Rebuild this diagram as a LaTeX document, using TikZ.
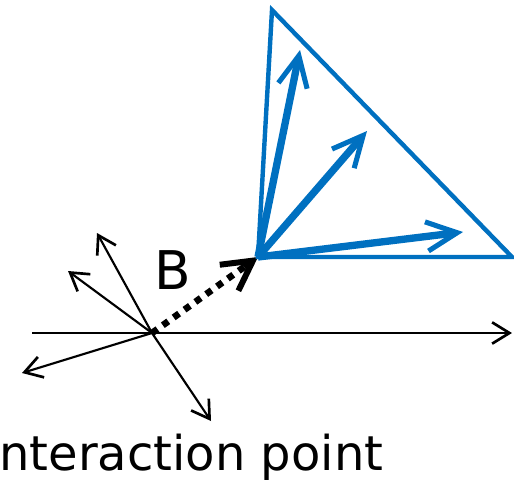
\documentclass[tikz,border=0pt]{standalone}
\usepackage{fontspec}
\setmainfont{DejaVu Sans}
\usetikzlibrary{arrows.meta}
\definecolor{tblue}{RGB}{0,112,192}

\begin{document}
\begin{tikzpicture}[x=0.75pt,y=-0.75pt,
  thinarr/.style={line width=1.6pt,-{Straight Barb[length=13pt,width=16pt,line width=2pt]}},
  bluearr/.style={tblue,line width=5.5pt,-{Straight Barb[length=23pt,width=22pt,line width=3.8pt]}}]
  \useasboundingbox (0,0) rectangle (514,482);

  % interaction point
  \coordinate (ip) at (152,333);
  \coordinate (ax0) at (32,333);
  \coordinate (ax1) at (512,333);
  \coordinate (p1) at (97,233);
  \coordinate (p2) at (68,271);
  \coordinate (p3) at (22,373);
  \coordinate (p4) at (211,421);
  \node[anchor=base west,font=\fontsize{36}{36}\selectfont,inner sep=0pt] (iplabel) at (-15,470) {Interaction point};

  % tracks
  \draw[thinarr] (ax0) -- (ax1);
  \draw[thinarr] (ip) -- (p1);
  \draw[thinarr] (ip) -- (p2);
  \draw[thinarr] (ip) -- (p3);
  \draw[thinarr] (ip) -- (p4);

  % B meson flight
  \coordinate (dv) at (258,257);
  \draw[line width=5pt,dash pattern=on 5pt off 5pt,shorten >=12pt] (ip) -- (dv);
  \draw[line width=4.5pt,shorten <=85pt,-{Straight Barb[length=22pt,width=24pt,line width=4.5pt]}] (ip) -- (dv);
  \node[font=\fontsize{40}{40}\selectfont] (blabel) at (173,270) {B};

  % decay cone
  \coordinate (t1) at (272,10);
  \coordinate (t2) at (512,257);
  \draw[tblue,line width=3.3pt,line join=miter] (dv) -- (t1) -- (t2) -- cycle;
  \coordinate (d1) at (300,50);
  \coordinate (d2) at (367,131);
  \coordinate (d3) at (463,232);
  \draw[bluearr] (dv) -- (d1);
  \draw[bluearr] (dv) -- (d2);
  \draw[bluearr] (dv) -- (d3);
\end{tikzpicture}
\end{document}
